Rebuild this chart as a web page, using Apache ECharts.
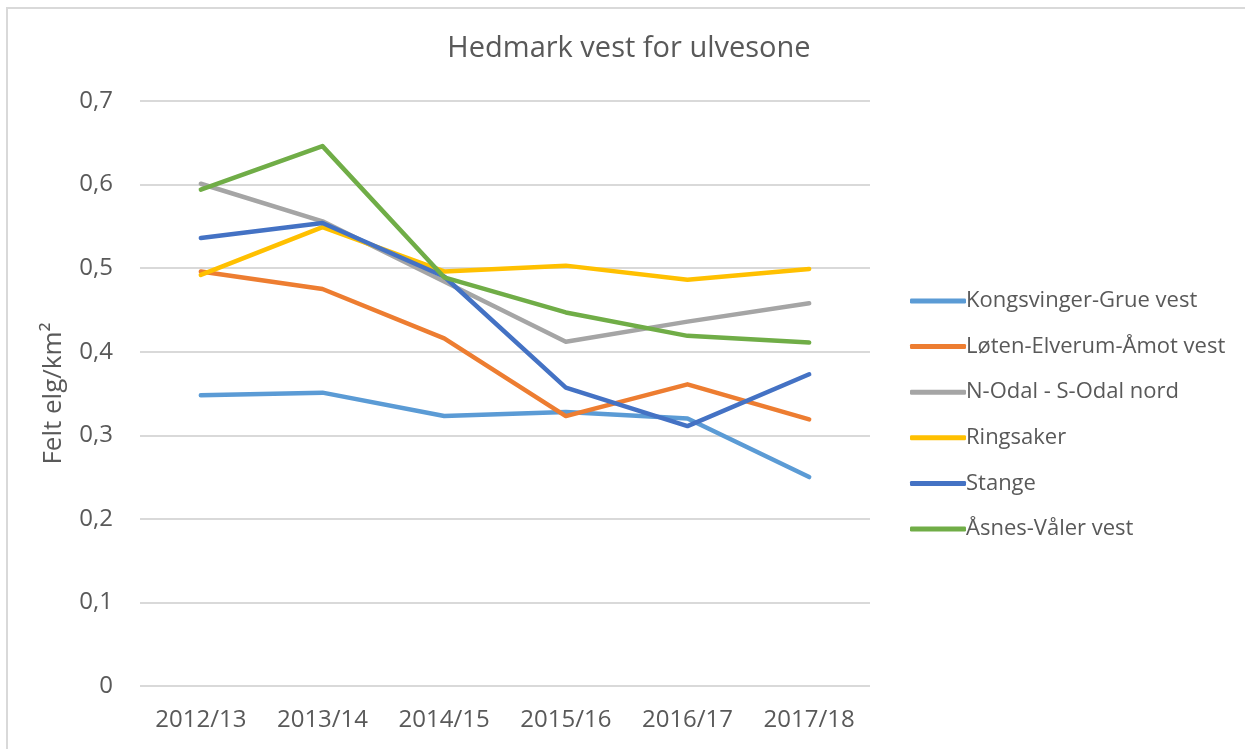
<!DOCTYPE html>
<html lang="no">
<head>
    <meta charset="UTF-8">
    <title>Hedmark vest for ulvesone</title>
    <style>
        html, body { margin: 0; padding: 0; background: #fff; overflow: hidden; width: 1245px; height: 749px; }
        #frame { position: absolute; left: 6px; top: 7px; width: 1245px; height: 749px;
                 border-left: 2px solid #d9d9d9; border-top: 2px solid #d9d9d9; }
        #myChart { position: absolute; left: 0; top: 0; width: 1245px; height: 749px; }
    </style>
</head>
<body>
    <div id="frame"></div>
    <div id="myChart"></div>
</body>
<script src="https://cdn.jsdelivr.net/npm/echarts@6/dist/echarts.min.js"></script>
<script>
    let seasons = ['2012/13', '2013/14', '2014/15', '2015/16', '2016/17', '2017/18'];
    let yTicks = [0, 0.1, 0.2, 0.3, 0.4, 0.5, 0.6, 0.7];

    let kongsvinger = [0.348, 0.351, 0.323, 0.328, 0.320, 0.250];
    let loten = [0.496, 0.475, 0.416, 0.323, 0.361, 0.319];
    let odal = [0.601, 0.556, 0.484, 0.412, 0.436, 0.458];
    let ringsaker = [0.492, 0.549, 0.496, 0.503, 0.486, 0.499];
    let stange = [0.536, 0.554, 0.490, 0.357, 0.311, 0.373];
    let asnes = [0.594, 0.646, 0.489, 0.447, 0.419, 0.411];

    let names = ['Kongsvinger-Grue vest', 'Løten-Elverum-Åmot vest', 'N-Odal - S-Odal nord',
                 'Ringsaker', 'Stange', 'Åsnes-Våler vest'];
    let values = [kongsvinger, loten, odal, ringsaker, stange, asnes];
    let colors = ['#5B9BD5', '#ED7D31', '#A5A5A5', '#FFC000', '#4472C4', '#70AD47'];

    let font = 'Open Sans';
    let chart = echarts.init(document.getElementById('myChart'));

    let option = {
      animation: false,
      color: colors,
      textStyle: { fontFamily: font },
      title: {
        text: 'Hedmark vest for ulvesone',
        left: 624,
        textAlign: 'center',
        top: 29,
        textStyle: { fontFamily: font, fontSize: 29, fontWeight: 'normal', color: '#595959' }
      },
      legend: {
        orient: 'vertical',
        left: 905,
        top: 285,
        itemWidth: 56,
        itemHeight: 5,
        itemGap: 23.6,
        icon: 'roundRect',
        textStyle: { fontFamily: font, fontSize: 22, color: '#595959', padding: [0, 0, 0, -5] },
        data: names
      },
      grid: { left: 140, right: 375, top: 101, bottom: 63 },
      xAxis: {
        type: 'category',
        data: seasons,
        boundaryGap: true,
        axisLine: { show: false },
        axisTick: { show: false },
        axisLabel: { fontFamily: font, fontSize: 24, color: '#595959', margin: 22 }
      },
      yAxis: {
        type: 'value',
        min: yTicks[0],
        max: yTicks[yTicks.length - 1],
        interval: 0.1,
        name: 'Felt elg/km²',
        nameLocation: 'middle',
        nameGap: 73,
        nameRotate: 90,
        nameTextStyle: { fontFamily: font, fontSize: 26, color: '#595959' },
        axisLine: { show: false },
        axisTick: { show: false },
        splitLine: { lineStyle: { color: '#d9d9d9', width: 2 } },
        axisLabel: {
          fontFamily: font, fontSize: 24, color: '#595959', margin: 27,
          formatter: function (v) { return String(Math.round(v * 10) / 10).replace('.', ','); }
        }
      },
      series: names.map(function (n, i) {
        return {
          name: n,
          type: 'line',
          data: values[i],
          symbol: 'none',
          lineStyle: { width: 4.5, cap: 'round', join: 'round' }
        };
      })
    };

    chart.setOption(option);
</script>
</html>
